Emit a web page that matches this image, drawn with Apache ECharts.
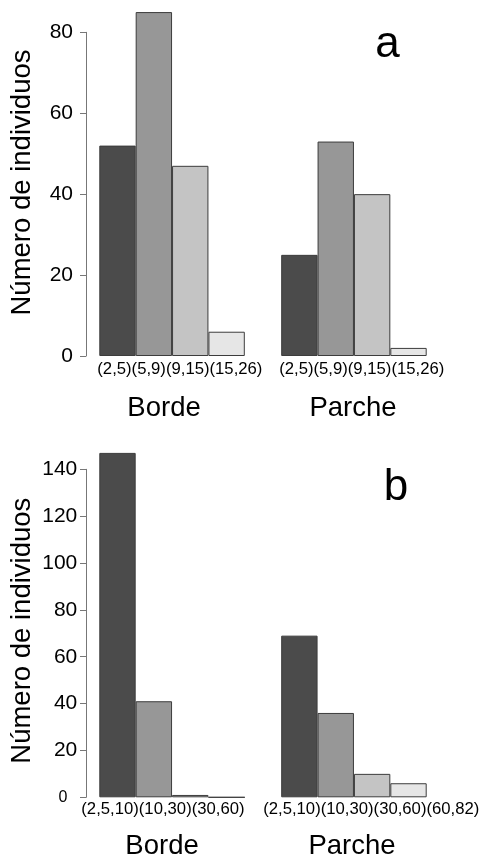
<!DOCTYPE html>
<html><head><meta charset="utf-8">
<script src="https://cdn.jsdelivr.net/npm/echarts@6/dist/echarts.min.js"></script>
<style>html,body{margin:0;padding:0;background:#fff}#c{width:480px;height:862px}</style>
</head><body><div id="c"></div>
<script>
// ---- data ----
const groups = ['Borde', 'Parche'];
const classesA = ['(2,5)', '(5,9)', '(9,15)', '(15,26)'];
const classesB = ['(2,5,10)', '(10,30)', '(30,60)', '(60,82)'];
const bordeA = [52, 85, 47, 6];
const parcheA = [25, 53, 40, 2];
const bordeB = [147, 41, 1, 0];
const parcheB = [69, 36, 10, 6];
const labelsBordeB = ['(2,5,10)', '(10,30)', '(30,60)']; // empty class label not printed in original
const yTicksA = [0, 20, 40, 60, 80];
const yTicksB = [0, 20, 40, 60, 80, 100, 120, 140];
const panelLetters = ['a', 'b'];
const yTitle = 'Número de individuos';
const barColors = ['#4b4b4b', '#979797', '#c4c4c4', '#e6e6e6'];

const FONT = '"Liberation Sans", Arial, Helvetica, sans-serif';

const panels = [
  { classes: classesA, borde: bordeA, parche: parcheA, ticks: yTicksA,
    labelTexts: [classesA.join(''), classesA.join('')],
    grid: { left: 99.3, right: 53.3, top: 32.3, bottom: 506 },
    labelMargin: 13, smallZero: false,
    clsDx: -2, clsDy: 13, grpDy: 52, grpDx: [-8, -1],
    letter: { x: 387.5, y: 45 }, titleY: 182.5 },
  { classes: classesB, borde: bordeB, parche: parcheB, ticks: yTicksB,
    labelTexts: [labelsBordeB.join(''), classesB.join('')],
    grid: { left: 99.3, right: 53.3, top: 469.3, bottom: 64.7 },
    labelMargin: 8.7, smallZero: true,
    clsDx: -18, clsDy: 12.5, grpDy: 49.5, grpDx: [-10, -2],
    letter: { x: 396, y: 488 }, titleY: 630.7 }
];

const chart = echarts.init(document.getElementById('c'), null, { renderer: 'canvas' });

const option = {
  animation: false,
  backgroundColor: '#ffffff',
  grid: panels.map(p => Object.assign({ containLabel: false, outerBoundsMode: 'none' }, p.grid)),
  xAxis: panels.map((p, k) => ({
    type: 'category', gridIndex: k, show: false,
    data: [...p.classes.map(c => groups[0] + ' ' + c), ' ', ...p.classes.map(c => groups[1] + ' ' + c)]
  })),
  yAxis: panels.map((p, k) => ({
    type: 'value', gridIndex: k,
    min: p.ticks[0], max: p.ticks[p.ticks.length - 1], interval: p.ticks[1] - p.ticks[0],
    offset: 13.3,
    axisLine: { show: true, lineStyle: { color: '#777', width: 1 } },
    axisTick: { show: true, length: 6, lineStyle: { color: '#777', width: 1 } },
    splitLine: { show: false },
    axisLabel: {
      margin: p.labelMargin, color: '#000', fontSize: 21, fontFamily: FONT,
      formatter: v => (p.smallZero && v === 0) ? '{s|0}' : '{n|' + v + '}',
      rich: {
        n: { fontSize: 21, fontFamily: FONT, color: '#000' },
        s: { fontSize: 16, fontFamily: FONT, color: '#000', padding: [0, 10, 0, 0] }
      }
    }
  })),
  series: panels.map((p, k) => ({
    type: 'bar', xAxisIndex: k, yAxisIndex: k, clip: false,
    barCategoryGap: '0%', silent: true,
    itemStyle: { borderColor: '#3c3c3c', borderWidth: 1 },
    data: [
      ...p.borde.map((v, i) => ({ value: v, itemStyle: { color: barColors[i] } })),
      '-',
      ...p.parche.map((v, i) => ({ value: v, itemStyle: { color: barColors[i] } }))
    ]
  }))
};
chart.setOption(option);

// ---- text annotations positioned from the axes' scales ----
const elements = [];
panels.forEach((p, k) => {
  const px = i => chart.convertToPixel({ xAxisIndex: k }, i);
  const band = px(1) - px(0);
  const y0 = chart.convertToPixel({ yAxisIndex: k }, 0);
  groups.forEach((g, gi) => {
    const first = gi * (p.classes.length + 1);
    const last = first + p.classes.length - 1;
    const left = px(first) - band / 2;
    const center = (px(first) + px(last)) / 2;
    elements.push({ type: 'text', silent: true, x: left + p.clsDx, y: y0 + p.clsDy,
      style: { text: p.labelTexts[gi], fontSize: 16.7, fontFamily: FONT, fill: '#000', align: 'left', verticalAlign: 'middle' } });
    elements.push({ type: 'text', silent: true, x: center + p.grpDx[gi], y: y0 + p.grpDy,
      style: { text: g, fontSize: 27.5, fontFamily: FONT, fill: '#000', align: 'center', verticalAlign: 'middle' } });
  });
  elements.push({ type: 'text', silent: true, x: p.letter.x, y: p.letter.y,
    style: { text: panelLetters[k], fontSize: 44, fontFamily: FONT, fill: '#000', align: 'center', verticalAlign: 'middle' } });
  elements.push({ type: 'text', silent: true, x: 22, y: p.titleY, rotation: Math.PI / 2,
    style: { text: yTitle, fontSize: 27.5, fontFamily: FONT, fill: '#000', align: 'center', verticalAlign: 'middle' } });
});
chart.setOption({ graphic: { elements } });
</script>
</body></html>
